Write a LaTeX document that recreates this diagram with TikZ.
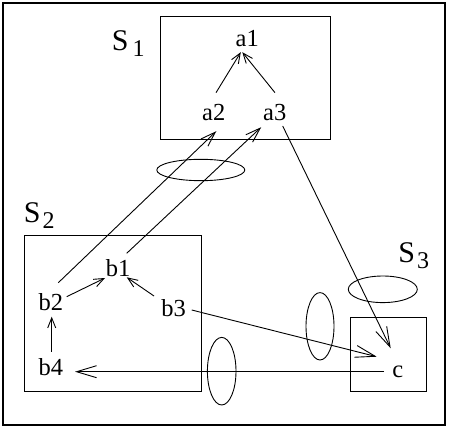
\documentclass[tikz,border=0pt]{standalone}
\usepackage{fontspec}
\setmainfont{Liberation Serif}
\usepackage{tikz}
\usetikzlibrary{arrows.meta}

\tikzset{
  lbl/.style={anchor=base, inner sep=0pt, font=\fontsize{24.5}{27}\selectfont},
  setlbl/.style={anchor=base west, inner sep=0pt, font=\fontsize{30}{32}\selectfont},
  arr/.style={-{Straight Barb[length=10pt,width=8pt]}},
  midarr/.style={-{Straight Barb[length=15pt,width=10pt]}},
  longarr/.style={-{Straight Barb[length=20pt,width=12pt]}}
}
\newcommand{\setsub}[2][2pt]{\hspace{#1}\raisebox{-6pt}{\fontsize{24}{26}\selectfont #2}}

\begin{document}
\begin{tikzpicture}[x=1pt, y=-1pt, line width=0.9pt]
\useasboundingbox (0,0) rectangle (449,430);
\draw[line width=1.1pt] (3,3) rectangle (445,425);

% the three sets
\draw (160,16.7) rectangle (330.7,139.3);
\draw (24,235) rectangle (201.7,391.7);
\draw (350.7,317.3) rectangle (426,391.7);
\node[setlbl] (S1) at (111.5,51) {S\setsub[4pt]{1}};
\node[setlbl] (S2) at (23.5,222.3) {S\setsub{2}};
\node[setlbl] (S3) at (398,262.3) {S\setsub{3}};

\node[lbl] (a1) at (247.3,46.7) {a1};
\node[lbl] (a2) at (213.8,120.7) {a2};
\node[lbl] (a3) at (274.7,120.7) {a3};
\node[lbl] (b1) at (118,276) {b1};
\node[lbl] (b2) at (50.8,310) {b2};
\node[lbl] (b3) at (173.7,316.7) {b3};
\node[lbl] (b4) at (50.8,375.7) {b4};
\node[lbl] (c) at (397.7,377.5) {c};

\draw[arr] ([shift={(2.2,-28)}]a2.base) -- ([shift={(-6.5,5.5)}]a1.base);
\draw[arr] ([shift={(0.3,-28)}]a3.base) -- ([shift={(-5,5.5)}]a1.base);
\draw[midarr] ([shift={(7.5,-27.3)}]b2.base) -- ([shift={(2.5,10.5)}]a2.base);
\draw[midarr] ([shift={(8.7,-22.7)}]b1.base) -- ([shift={(-13.5,6.5)}]a3.base);
\draw[longarr] ([shift={(8,5.3)}]a3.base) -- ([shift={(-7,-29.2)}]c.base);
\draw[arr] ([shift={(15.9,-13.3)}]b2.base) -- ([shift={(-13,2)}]b1.base);
\draw[arr] ([shift={(-19.7,-20.7)}]b3.base) -- ([shift={(8.7,1.3)}]b1.base);
\draw[arr] ([shift={(0.9,-24)}]b4.base) -- ([shift={(0.9,6.7)}]b2.base);
\draw[longarr] ([shift={(18,-6.7)}]b3.base) -- ([shift={(-21,-20.8)}]c.base);
\draw[longarr] ([shift={(-13.7,-5.8)}]c.base) -- ([shift={(24.2,-4)}]b4.base);

% cuts
\draw (200.8,170) ellipse [x radius=44pt, y radius=10.7pt];
\draw (382.8,289.3) ellipse [x radius=34.5pt, y radius=13.3pt];
\draw (320,326.3) ellipse [x radius=14pt, y radius=33.7pt];
\draw (221.7,371.2) ellipse [x radius=14.3pt, y radius=33.8pt];
\end{tikzpicture}
\end{document}
